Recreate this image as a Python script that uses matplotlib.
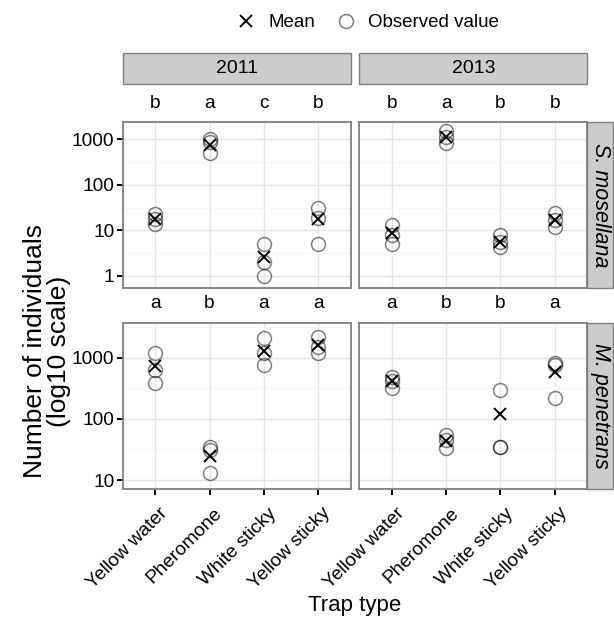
import numpy as np
import matplotlib
matplotlib.use("Agg")
import matplotlib.pyplot as plt
from matplotlib.patches import Rectangle
from matplotlib.lines import Line2D
from matplotlib.transforms import blended_transform_factory, ScaledTranslation

plt.rcParams['font.family'] = ['Liberation Sans', 'DejaVu Sans']

traps = ["Yellow water", "Pheromone", "White sticky", "Yellow sticky"]
years = ["2011", "2013"]
species = ["S. mosellana", "M. penetrans"]

# observed values, three per trap type
obs_smos_2011 = [[23, 18, 14], [1000, 860, 490], [5, 2, 1], [31, 19, 5]]
obs_smos_2013 = [[13, 8, 5], [1500, 1140, 850], [8, 5.5, 4.3], [24, 17, 12]]
obs_mpen_2011 = [[1180, 630, 380], [35, 31, 13], [2070, 1180, 760], [2200, 1510, 1180]]
obs_mpen_2013 = [[490, 420, 315], [54, 45, 33], [296, 35, 34], [808, 758, 222]]

mean_smos_2011 = [18, 760, 2.6, 18]
mean_smos_2013 = [8.5, 1150, 5.6, 17]
mean_mpen_2011 = [720, 25, 1280, 1600]
mean_mpen_2013 = [410, 44, 122, 590]

letters_smos_2011 = ["b", "a", "c", "b"]
letters_smos_2013 = ["b", "a", "b", "b"]
letters_mpen_2011 = ["a", "b", "a", "a"]
letters_mpen_2013 = ["a", "b", "b", "a"]

panels = [
    [(obs_smos_2011, mean_smos_2011, letters_smos_2011),
     (obs_smos_2013, mean_smos_2013, letters_smos_2013)],
    [(obs_mpen_2011, mean_mpen_2011, letters_mpen_2011),
     (obs_mpen_2013, mean_mpen_2013, letters_mpen_2013)],
]
row_ylim = [(10 ** -0.264, 10 ** 3.374), (10 ** 0.848, 10 ** 3.572)]
row_ticks = [[1, 10, 100, 1000], [10, 100, 1000]]

W, H = 614, 620
fig = plt.figure(figsize=(W / 100, H / 100), dpi=100)

col_x = [(122.7, 350.7), (359.3, 587.3)]
row_y = [(122.3, 287.7), (322.7, 489.3)]
border = '#7f7f7f'
strip_fill = '#cccccc'
tick_fs = 13.8


def rect(x0, x1, yt, yb):
    return [x0 / W, 1 - yb / H, (x1 - x0) / W, (yb - yt) / H]


for r in range(2):
    for c in range(2):
        x0, x1 = col_x[c]
        yt, yb = row_y[r]
        ax = fig.add_axes(rect(x0, x1, yt, yb))
        obs, means, letters = panels[r][c]
        xs = np.arange(1, len(traps) + 1)
        for i, vals in enumerate(obs):
            ax.plot([xs[i]] * len(vals), vals, 'o', ms=10, mfc='none',
                    mec='black', mew=1.1, alpha=0.5, zorder=3)
        ax.plot(xs, means, 'x', ms=8.5, mew=1.4, color='black', zorder=4)
        ax.set_yscale('log')
        ax.set_yticks(row_ticks[r])
        ax.set_yticks([10 ** (k + 0.5) for k in range(-1, 4)], minor=True)
        ax.set_yticklabels([str(t) for t in row_ticks[r]])
        ax.set_ylim(*row_ylim[r])
        ax.set_xticks(xs)
        ax.set_xlim(0.4, 4.6)
        ax.grid(True, which='major', color='#e5e5e5', lw=1.0)
        ax.grid(True, which='minor', axis='y', color='#f5f5f5', lw=0.8)
        ax.set_axisbelow(True)
        ax.tick_params(which='minor', length=0, labelleft=False)
        ax.tick_params(which='major', length=4, width=1.4, color='black',
                       labelsize=tick_fs, pad=2)
        for s in ax.spines.values():
            s.set_color(border)
            s.set_linewidth(1.3)
        if c == 1:
            ax.tick_params(axis='y', left=False, labelleft=False)
        if r == 0:
            ax.tick_params(axis='x', bottom=False, labelbottom=False)
        else:
            ax.set_xticklabels(traps, rotation=45, ha='right', va='top',
                               rotation_mode='anchor')
            shift = ScaledTranslation(4 / 100, -7 / 100, fig.dpi_scale_trans)
            for lab in ax.get_xticklabels():
                lab.set_transform(lab.get_transform() + shift)
        tr = blended_transform_factory(ax.transData, ax.transAxes)
        hpx = yb - yt
        for i, l in enumerate(letters):
            ax.text(xs[i], 1 + 19 / hpx, l, transform=tr, ha='center',
                    va='center', fontsize=tick_fs, clip_on=False)

# column strips
for c in range(2):
    x0, x1 = col_x[c]
    fig.add_artist(Rectangle((x0 / W, 1 - 84 / H), (x1 - x0) / W, 30.7 / H,
                             transform=fig.transFigure, facecolor=strip_fill,
                             edgecolor=border, lw=1.0))
    fig.text((x0 + x1) / 2 / W, 1 - 68.6 / H, years[c], ha='center',
             va='center', fontsize=14)

# row strips
for r in range(2):
    yt, yb = row_y[r]
    fig.add_artist(Rectangle((587.3 / W, 1 - yb / H), 25.5 / W, (yb - yt) / H,
                             transform=fig.transFigure, facecolor=strip_fill,
                             edgecolor=border, lw=1.0))
    fig.text(600.5 / W, 1 - (yt + yb) / 2 / H, species[r], ha='center',
             va='center', rotation=-90, fontsize=15.5, style='italic')

fig.text(355 / W, 1 - 606 / H, "Trap type", ha='center', va='center',
         fontsize=16)
fig.text(47 / W, 1 - 351 / H, "Number of individuals\n(log10 scale)",
         ha='center', va='center', rotation=90, fontsize=19, linespacing=0.95)

handles = [
    Line2D([], [], ls='none', marker='x', ms=8.5, mew=1.4, color='black'),
    Line2D([], [], ls='none', marker='o', ms=10, mfc='none', mec='black',
           mew=1.1, alpha=0.5),
]
fig.legend(handles, ["Mean", "Observed value"], loc='center', ncol=2,
           bbox_to_anchor=(367 / W, 1 - 22.7 / H), frameon=False,
           fontsize=13.5, handletextpad=0.6, columnspacing=1.0,
           handlelength=1.2)

fig.savefig("out.png", dpi=100)
